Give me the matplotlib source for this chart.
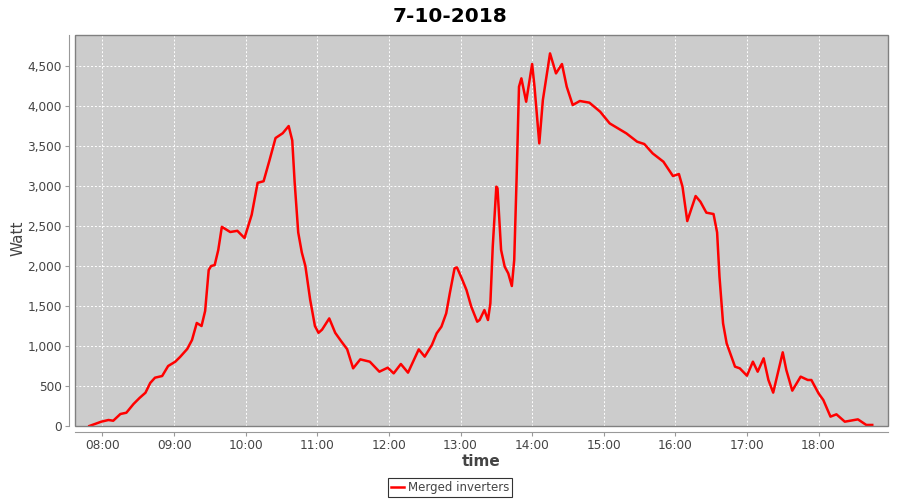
import matplotlib
matplotlib.use("Agg")
import matplotlib.pyplot as plt
from matplotlib.ticker import FuncFormatter, MultipleLocator
from matplotlib.patches import Rectangle

# readings of the merged inverters, time of day and watt
times = ["07:49", "07:59", "08:05", "08:09", "08:15", "08:20", "08:26", "08:31", "08:36", "08:40",
         "08:44", "08:50", "08:55", "09:01", "09:05", "09:11", "09:15", "09:19", "09:23", "09:26",
         "09:29", "09:31", "09:34", "09:37", "09:40", "09:47", "09:53", "09:59", "10:05", "10:10",
         "10:15", "10:20", "10:25", "10:31", "10:36", "10:39", "10:41", "10:44", "10:47", "10:50",
         "10:54", "10:58", "11:01", "11:04", "11:10", "11:15", "11:20", "11:25", "11:30", "11:36",
         "11:44", "11:52", "11:59", "12:04", "12:10", "12:16", "12:25", "12:30", "12:36", "12:40",
         "12:44", "12:48", "12:51", "12:55", "12:57", "13:01", "13:05", "13:09", "13:14", "13:16",
         "13:20", "13:23", "13:25", "13:27", "13:30", "13:31", "13:34", "13:37", "13:40", "13:43",
         "13:45", "13:47", "13:49", "13:51", "13:55", "14:00", "14:02", "14:06", "14:09", "14:15",
         "14:20", "14:25", "14:29", "14:34", "14:40", "14:48", "14:57", "15:05", "15:19", "15:28",
         "15:34", "15:41", "15:50", "15:58", "16:03", "16:06", "16:10", "16:17", "16:21", "16:26",
         "16:32", "16:35", "16:37", "16:40", "16:43", "16:50", "16:54", "17:00", "17:05", "17:09",
         "17:14", "17:18", "17:22", "17:30", "17:33", "17:38", "17:45", "17:51", "17:54", "18:00",
         "18:04", "18:10", "18:15", "18:22", "18:33", "18:40", "18:45"]
watt = [0, 54, 75, 66, 150, 166, 275, 350, 416, 538,
        604, 625, 750, 804, 863, 963, 1075, 1288, 1250, 1438,
        1950, 2000, 2012, 2200, 2490, 2425, 2440, 2350, 2640, 3040,
        3060, 3325, 3600, 3660, 3750, 3570, 3050, 2420, 2170, 2000,
        1580, 1250, 1165, 1205, 1345, 1165, 1060, 960, 721, 833,
        804, 679, 729, 658, 775, 667, 958, 867, 1013, 1158,
        1242, 1408, 1658, 1971, 1983, 1846, 1700, 1492, 1304, 1325,
        1450, 1325, 1533, 2242, 2992, 2971, 2200, 1992, 1908, 1750,
        2075, 3100, 4241, 4346, 4054, 4525, 4241, 3533, 4075, 4658,
        4408, 4525, 4241, 4013, 4063, 4042, 3929, 3783, 3658, 3554,
        3525, 3408, 3304, 3125, 3150, 2992, 2562, 2875, 2804, 2667,
        2650, 2420, 1867, 1283, 1033, 742, 721, 629, 804, 679,
        846, 575, 417, 921, 700, 442, 617, 575, 575, 408,
        325, 117, 146, 54, 83, 13, 13]

hours = [int(t[:2]) + int(t[3:]) / 60 for t in times]

fig = plt.figure(figsize=(9, 5), dpi=100)
ax = fig.add_axes([75 / 900, 1 - 426 / 500, 813 / 900, 391 / 500])
ax.set_facecolor("#cccccc")

ax.plot(hours, watt, color="#ff0000", linewidth=1.8, label="Merged inverters")

ax.set_xlim(7.616, 18.97)
ax.set_ylim(0, 4888)
ax.xaxis.set_major_locator(MultipleLocator(1))
ax.xaxis.set_major_formatter(FuncFormatter(lambda v, p: f"{int(round(v)):02d}:00"))
ax.yaxis.set_major_locator(MultipleLocator(500))
ax.yaxis.set_major_formatter(FuncFormatter(lambda v, p: f"{int(v):,}"))

ax.grid(True, color="white", linestyle=(0, (2, 2)), linewidth=0.7)
ax.set_axisbelow(True)

for side in ["top", "right"]:
    ax.spines[side].set_visible(False)
for side in ["left", "bottom"]:
    ax.spines[side].set_position(("outward", 4))
    ax.spines[side].set_color("#999999")
ax.add_patch(Rectangle((0, 0), 1, 1, transform=ax.transAxes, fill=False,
                       edgecolor="#808080", linewidth=1.0, clip_on=False, zorder=5))

ax.tick_params(colors="#999999", labelcolor="#444444", labelsize=8.7, length=3, pad=2.5)
ax.set_xlabel("time", fontsize=11, fontweight="bold", color="#444444")
ax.xaxis.set_label_coords(0.5, -0.072)
ax.set_ylabel("Watt", fontsize=11, color="#444444")
ax.yaxis.set_label_coords(-0.061, 0.48)

fig.suptitle("7-10-2018", fontsize=14.5, fontweight="bold", y=0.985)

leg = fig.legend(loc="lower center", bbox_to_anchor=(0.5, 0.001), fontsize=8.5,
                 frameon=True, fancybox=False, handlelength=1.1, borderpad=0.25,
                 handletextpad=0.3, borderaxespad=0.2)
leg.get_frame().set_edgecolor("black")
leg.get_frame().set_linewidth(0.8)
for t in leg.get_texts():
    t.set_color("#444444")

fig.savefig("out.png", dpi=100)
